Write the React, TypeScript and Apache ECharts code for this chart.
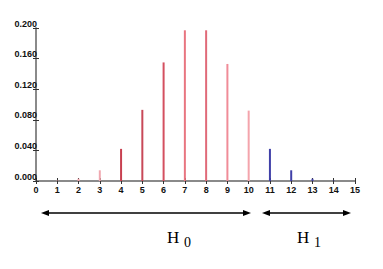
import React, { useEffect, useRef } from "react";
import * as echarts from "echarts";

const h0Outcomes = [1, 2, 3, 4, 5, 6, 7, 8, 9, 10];
const h0Probs = [0.0005, 0.003, 0.014, 0.042, 0.093, 0.155, 0.197, 0.197, 0.153, 0.092];
const h0Colors = ["#f0a0a8", "#f0a0a8", "#f0a8b0", "#c84050", "#c84858", "#d45060", "#e87580", "#e06a78", "#f08c98", "#f4a4ac"];
const h1Outcomes = [11, 12, 13, 14];
const h1Probs = [0.042, 0.014, 0.003, 0.0005];
const h1Color = "#4040a8";
const yTicks = [0, 0.04, 0.08, 0.12, 0.16, 0.2];

export default function App() {
  const ref = useRef<HTMLDivElement>(null);
  useEffect(() => {
    if (!ref.current) return;
    const chart = echarts.init(ref.current, null, { renderer: "svg" });
    const labelFont = { fontFamily: "Liberation Sans, Arial, sans-serif", fontWeight: "bold" as const, fontSize: 9, color: "#111" };
    const arrowY = 213;
    const arrow = (x1: number, x2: number) => [
      { type: "line", shape: { x1: x1 + 4, y1: arrowY, x2: x2 - 4, y2: arrowY }, style: { stroke: "#000", lineWidth: 1.5 } },
      { type: "polygon", shape: { points: [[x1, arrowY], [x1 + 8, arrowY - 3], [x1 + 8, arrowY + 3]] }, style: { fill: "#000" } },
      { type: "polygon", shape: { points: [[x2, arrowY], [x2 - 8, arrowY - 3], [x2 - 8, arrowY + 3]] }, style: { fill: "#000" } },
    ];
    const serif = "Liberation Serif, Times New Roman, serif";
    chart.setOption({
      animation: false,
      grid: { left: 36, right: 28, top: 28, bottom: 88, containLabel: false },
      xAxis: [
        {
          type: "value", min: 0, max: 15, interval: 1,
          axisLine: { lineStyle: { color: "#8a8a8a", width: 2 } },
          axisTick: { show: true, length: 3, lineStyle: { color: "#333", width: 1 } },
          axisLabel: { ...labelFont, margin: 4 },
          splitLine: { show: false },
        },
        {
          type: "value", min: 0, max: 15, interval: 1, position: "bottom",
          axisLine: { show: false },
          axisTick: { show: true, inside: true, length: 3, lineStyle: { color: "#333", width: 1 } },
          axisLabel: { show: false },
          splitLine: { show: false },
        },
      ],
      yAxis: [
        {
          type: "value", min: yTicks[0], max: yTicks[yTicks.length - 1], interval: 0.04,
          axisLine: { show: true, lineStyle: { color: "#8a8a8a", width: 2 } },
          axisTick: { show: true, length: 3, lineStyle: { color: "#333", width: 1 } },
          axisLabel: { ...labelFont, margin: -1, verticalAlign: "bottom", formatter: (v: number) => v.toFixed(3) },
          splitLine: { show: false },
        },
        {
          type: "value", min: yTicks[0], max: yTicks[yTicks.length - 1], interval: 0.04, position: "left",
          axisLine: { show: false },
          axisTick: { show: true, inside: true, length: 3, lineStyle: { color: "#333", width: 1 } },
          axisLabel: { show: false },
          splitLine: { show: false },
        },
      ],
      series: [
        {
          type: "bar", barWidth: 2, xAxisIndex: 0, yAxisIndex: 0, z: 1,
          data: h0Outcomes.map((k, i) => ({ value: [k, h0Probs[i]], itemStyle: { color: h0Colors[i] } })),
        },
        {
          type: "bar", barWidth: 2, xAxisIndex: 0, yAxisIndex: 0, z: 1, barGap: "-100%",
          data: h1Outcomes.map((k, i) => ({ value: [k, h1Probs[i]], itemStyle: { color: h1Color } })),
        },
      ],
      graphic: [
        ...arrow(41, 251),
        ...arrow(262, 351),
        { type: "text", x: 167, y: 229, style: { text: "H", font: `17px ${serif}`, fill: "#000" } },
        { type: "text", x: 184, y: 235, style: { text: "0", font: `14px ${serif}`, fill: "#000" } },
        { type: "text", x: 297, y: 229, style: { text: "H", font: `17px ${serif}`, fill: "#000" } },
        { type: "text", x: 314, y: 235, style: { text: "1", font: `14px ${serif}`, fill: "#000" } },
      ],
    });
    return () => chart.dispose();
  }, []);
  return <div ref={ref} style={{ width: 383, height: 269, position: "absolute", left: 0, top: 0 }} />;
}
